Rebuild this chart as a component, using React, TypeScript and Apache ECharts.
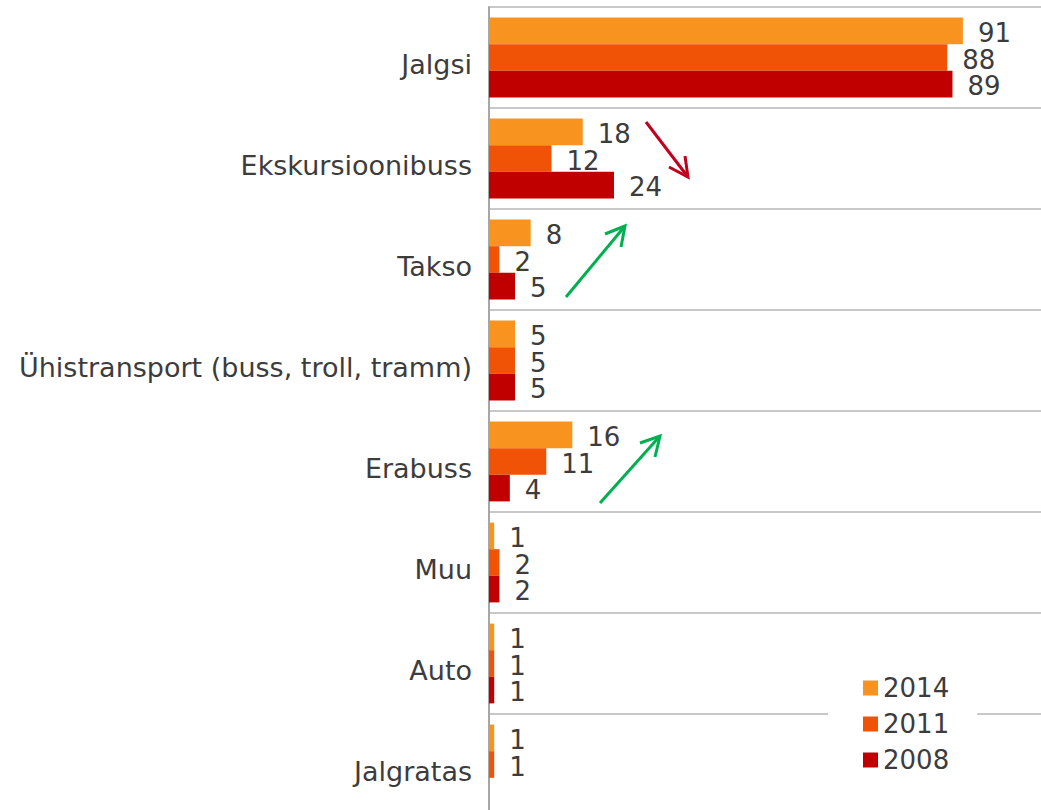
import React, { useEffect, useRef } from "react";
import * as echarts from "echarts";

const categories = [
  "Jalgsi",
  "Ekskursioonibuss",
  "Takso",
  "Ühistransport (buss, troll, tramm)",
  "Erabuss",
  "Muu",
  "Auto",
  "Jalgratas",
];
const seriesNames = ["2014", "2011", "2008"];
const values2014 = [91, 18, 8, 5, 16, 1, 1, 1];
const values2011 = [88, 12, 2, 5, 11, 2, 1, 1];
const values2008: (number | null)[] = [89, 24, 5, 5, 4, 2, 1, null];
const colors = ["#F7931E", "#F05306", "#C00000"];

const FONT = "DejaVu Sans";
const TEXT = "#3c3c3c";

export default function App() {
  const ref = useRef<HTMLDivElement>(null);
  useEffect(() => {
    document.body.style.overflow = "hidden";
    document.documentElement.style.overflow = "hidden";
    const chart = echarts.init(ref.current!, undefined, { renderer: "svg" });
    const data = [values2014, values2011, values2008];
    const arrow = (pts: number[][], w1: number[], w2: number[], color: string) => [
      {
        type: "line",
        shape: { x1: pts[0][0], y1: pts[0][1], x2: pts[1][0], y2: pts[1][1] },
        style: { stroke: color, lineWidth: 3 },
        z: 100,
      },
      {
        type: "polyline",
        shape: { points: [w1, pts[1], w2] },
        style: { stroke: color, lineWidth: 3, fill: "none" },
        z: 100,
      },
    ];
    chart.setOption({
      animation: false,
      textStyle: { fontFamily: FONT },
      grid: { left: 489, top: 7, right: 0, bottom: 0, containLabel: false },
      xAxis: {
        type: "value",
        min: 0,
        max: 106,
        show: false,
        splitLine: { show: false },
      },
      yAxis: {
        type: "category",
        data: categories,
        inverse: true,
        axisLine: { show: true, lineStyle: { color: "#a6a6a6", width: 2 } },
        axisTick: { show: false },
        splitLine: { show: true, lineStyle: { color: "#c8c8c8", width: 2 } },
        axisLabel: {
          color: TEXT,
          fontSize: 27,
          fontFamily: FONT,
          margin: 17,
          verticalAlign: "top",
          lineHeight: 14,
        },
      },
      legend: {
        orient: "vertical",
        left: 828,
        top: 667,
        data: seriesNames,
        itemWidth: 15,
        itemHeight: 15,
        itemGap: 10,
        itemTextGap: 8,
        icon: "rect",
        backgroundColor: "#ffffff",
        padding: [8, 28, 8, 35],
        textStyle: { color: TEXT, fontSize: 26, fontFamily: FONT, lineHeight: 26 },
        z: 10,
      },
      series: seriesNames.map((name, i) => ({
        name,
        type: "bar",
        data: data[i],
        barGap: "0%",
        barCategoryGap: "21%",
        itemStyle: { color: colors[i] },
        label: {
          show: true,
          position: "right",
          distance: 15,
          offset: [0, 2],
          color: TEXT,
          fontSize: 26,
          fontFamily: FONT,
        },
      })),
      graphic: [
        ...arrow([[646, 122], [688, 177]], [669, 167], [685, 156], "#C0001E"),
        ...arrow([[566, 297], [625, 226]], [605, 234], [621, 247], "#00B050"),
        ...arrow([[600, 503], [660, 436]], [640, 443], [655, 457], "#00B050"),
      ],
    });
    return () => chart.dispose();
  }, []);
  return (
    <div
      ref={ref}
      style={{ position: "absolute", left: 0, top: 0, width: 1041, height: 815 }}
    />
  );
}
